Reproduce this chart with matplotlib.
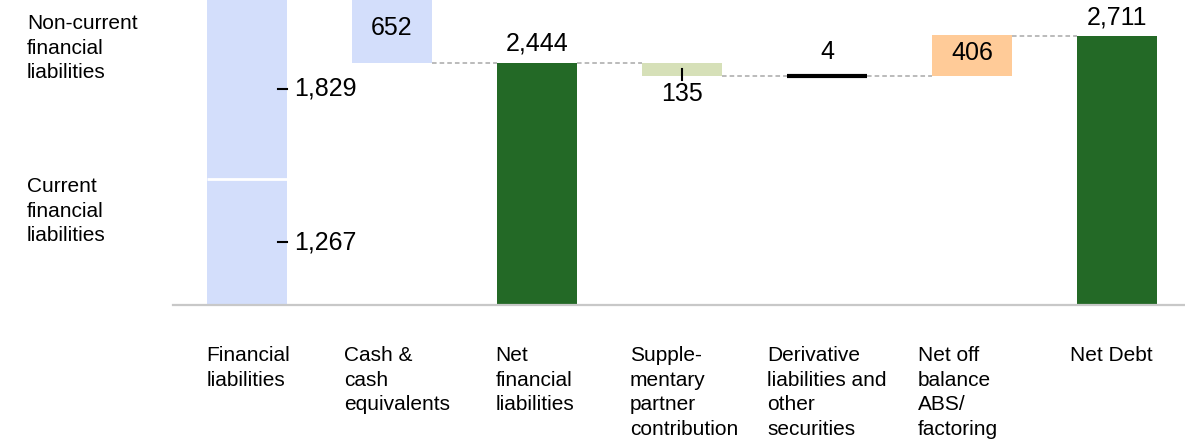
import matplotlib.pyplot as plt
import numpy as np

plt.rcParams["font.family"] = ["Liberation Sans", "DejaVu Sans"]

categories = [
    "Financial\nliabilities",
    "Cash &\ncash\nequivalents",
    "Net\nfinancial\nliabilities",
    "Supple-\nmentary\npartner\ncontribution",
    "Derivative\nliabilities and\nother\nsecurities",
    "Net off\nbalance\nABS/\nfactoring",
    "Net Debt",
]

current_fin_liab = 1267
non_current_fin_liab = 1829
cash = -652
net_fin_liab = 2444
supplementary = -135
derivatives = 4
abs_factoring = 406
net_debt = 2711

blue = "#D3DEFB"
green = "#236926"
light_green = "#D6E0B8"
orange = "#FFCB98"
grey = "#A8A8A8"

fig = plt.figure(figsize=(11.85, 4.41), dpi=100)
ax = fig.add_axes([0, 0, 1, 1])
ax.set_xlim(-247 / 145, (1185 - 247) / 145)
ax.set_ylim(-136 / 0.0992, 305 / 0.0992)
ax.axis("off")

x = np.arange(len(categories))
w = 0.552
total_fin_liab = current_fin_liab + non_current_fin_liab

# financial liabilities, split into current / non-current
ax.bar(x[0], current_fin_liab, w, color=blue)
ax.bar(x[0], non_current_fin_liab, w, bottom=current_fin_liab, color=blue)
ax.hlines(current_fin_liab, x[0] - w / 2, x[0] + w / 2, color="white", lw=2)

# cash
ax.bar(x[1], -cash, w, bottom=total_fin_liab + cash, color=blue)
# net financial liabilities
ax.bar(x[2], net_fin_liab, w, color=green)
# supplementary partner contribution
supp_bottom = net_fin_liab + supplementary
ax.bar(x[3], -supplementary, w, bottom=supp_bottom, color=light_green)
# derivatives (tiny, drawn with a thick outline)
ax.bar(x[4], derivatives, w, bottom=supp_bottom, color="black",
       edgecolor="black", lw=3)
deriv_top = supp_bottom + derivatives
# ABS / factoring
ax.bar(x[5], abs_factoring, w, bottom=deriv_top, color=orange)
# net debt
ax.bar(x[6], net_debt, w, color=green)

# dashed connectors
levels = [total_fin_liab, net_fin_liab, net_fin_liab, supp_bottom,
          deriv_top, net_debt]
for i, lvl in enumerate(levels):
    ax.plot([x[i] + w / 2, x[i + 1] - w / 2], [lvl, lvl], color=grey,
            lw=1.1, ls=(0, (3, 2)))

# baseline
ax.axhline(0, xmin=173 / 1185, color="#C8C8C8", lw=1.6)

num = dict(fontsize=18, color="black", textcoords="offset pixels")

# segment values of the first bar
for lo, val in [(0, current_fin_liab), (current_fin_liab, non_current_fin_liab)]:
    mid = lo + val / 2
    ax.plot([x[0] + w / 2 - 0.062, x[0] + w / 2], [mid, mid], color="black", lw=1.5)
    ax.annotate(f"{val:,}", (x[0] + w / 2, mid), xytext=(7, 0),
                ha="left", va="center", **num)

ax.annotate(f"{-cash:,}", (x[1], net_fin_liab), xytext=(0, 35),
            ha="center", va="center", **num)
ax.annotate(f"{net_fin_liab:,}", (x[2], net_fin_liab), xytext=(0, 12),
            ha="center", va="baseline", **num)
ax.plot([x[3], x[3]], [net_fin_liab + supplementary / 2, supp_bottom - 40],
        color="black", lw=1.5)
ax.annotate(f"{-supplementary:,}", (x[3], supp_bottom), xytext=(0, -6),
            ha="center", va="top", **num)
ax.annotate(f"{derivatives:,}", (x[4], deriv_top), xytext=(0, 17),
            ha="center", va="baseline", **num)
ax.annotate(f"{abs_factoring:,}", (x[5], deriv_top + abs_factoring / 2),
            xytext=(0, 2), ha="center", va="center", **num)
ax.annotate(f"{net_debt:,}", (x[6], net_debt), xytext=(0, 12),
            ha="center", va="baseline", **num)

# category labels under the axis
nudge = [1, 5, -2, 2, 0, -14, -6]
for xi, label, dx in zip(x, categories, nudge):
    ax.annotate(label, (xi, 0), xytext=(dx, -41), textcoords="offset pixels",
                ha="center", va="top", multialignment="left", fontsize=15,
                linespacing=1.38)

fig.text(27 / 1185, 1 - 14 / 441, "Non-current\nfinancial\nliabilities",
         ha="left", va="top", fontsize=15, linespacing=1.38)
fig.text(27 / 1185, 1 - 177 / 441, "Current\nfinancial\nliabilities",
         ha="left", va="top", fontsize=15, linespacing=1.38)

fig.savefig("out.png", dpi=100)
